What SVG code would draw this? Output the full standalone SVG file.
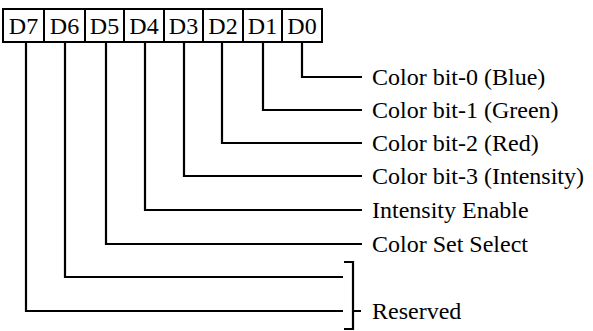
<svg xmlns="http://www.w3.org/2000/svg" width="593" height="331" viewBox="0 0 593 331">
<style>
.box{fill:#fff;stroke:#000;stroke-width:2}
.lbl{font-family:"Liberation Serif","Times New Roman",serif;font-size:24px;fill:#000}
.bl{text-anchor:middle}
.ln{fill:none;stroke:#000;stroke-width:2.2}
</style>
<rect width="593" height="331" fill="#fff"/>
<g id="register">
<g id="D7"><rect class="box" x="3" y="9" width="41" height="33"/><text class="lbl bl" x="23.5" y="34">D7</text></g>
<g id="D6"><rect class="box" x="44" y="9" width="41" height="33"/><text class="lbl bl" x="64.5" y="34">D6</text></g>
<g id="D5"><rect class="box" x="85" y="9" width="39" height="33"/><text class="lbl bl" x="104.5" y="34">D5</text></g>
<g id="D4"><rect class="box" x="124" y="9" width="40" height="33"/><text class="lbl bl" x="144" y="34">D4</text></g>
<g id="D3"><rect class="box" x="164" y="9" width="39" height="33"/><text class="lbl bl" x="183.5" y="34">D3</text></g>
<g id="D2"><rect class="box" x="203" y="9" width="40" height="33"/><text class="lbl bl" x="223" y="34">D2</text></g>
<g id="D1"><rect class="box" x="243" y="9" width="39" height="33"/><text class="lbl bl" x="262.5" y="34">D1</text></g>
<g id="D0"><rect class="box" x="282" y="9" width="40" height="33"/><text class="lbl bl" x="302" y="34">D0</text></g>
</g>
<g id="connectors">
<path class="ln" d="M302 42 V77 H362"/>
<path class="ln" d="M263 42 V110 H362"/>
<path class="ln" d="M222 42 V143 H362"/>
<path class="ln" d="M184 42 V176 H362"/>
<path class="ln" d="M145 42 V210 H362"/>
<path class="ln" d="M106 42 V244 H362"/>
<path class="ln" d="M65 42 V277 H343"/>
<path class="ln" d="M26 42 V311 H343"/>
<path class="ln" d="M344 262 H353 V329 H344 M353 311 H361"/>
</g>
<g id="labels">
<text class="lbl" x="372" y="85">Color bit-0 (Blue)</text>
<text class="lbl" x="372" y="118">Color bit-1 (Green)</text>
<text class="lbl" x="372" y="151">Color bit-2 (Red)</text>
<text class="lbl" x="372" y="184">Color bit-3 (Intensity)</text>
<text class="lbl" x="372" y="218">Intensity Enable</text>
<text class="lbl" x="372" y="252">Color Set Select</text>
<text class="lbl" x="372" y="319">Reserved</text>
</g>
</svg>
